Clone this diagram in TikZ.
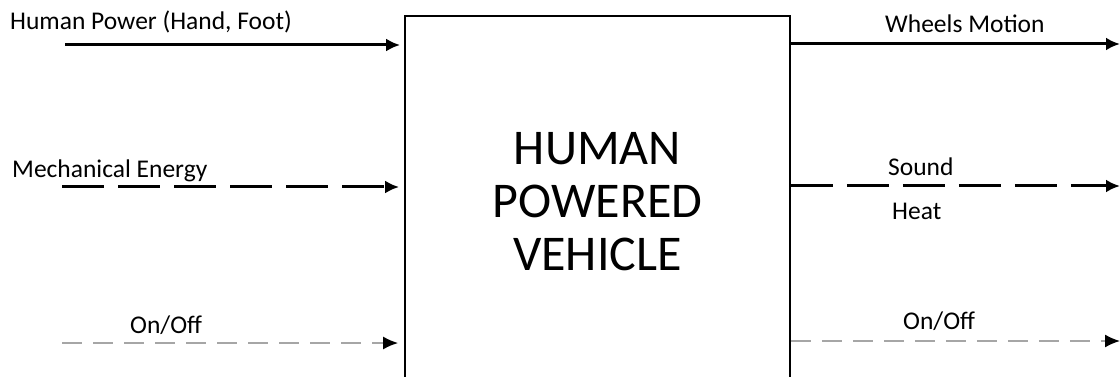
\documentclass[tikz,border=0pt]{standalone}
\usepackage{fontspec}
\setmainfont{Carlito}
\usetikzlibrary{arrows.meta}

\tikzset{
    flow/.style={line width=3pt, -{Latex[length=14pt,width=13pt]}},
    energy/.style={flow, dash pattern=on 42pt off 14pt},
    signal/.style={line width=1.6pt, gray!70, dash pattern=on 20pt off 11pt,
        -{Latex[length=15pt,width=13pt,black]}},
    lbl/.style={font=\fontsize{25.5}{28}\selectfont, inner sep=0pt}
}

\begin{document}
\begin{tikzpicture}[x=1pt, y=-1pt]
    \useasboundingbox (0,0) rectangle (1120,377);
    \clip (0,0) rectangle (1120,377);
    % the system box (its lower edge runs off the page)
    \node (vehicle) [draw, line width=1.8pt, anchor=north, minimum width=385pt,
        minimum height=372pt, align=center,
        font=\fontsize{50}{53}\selectfont] at (597.5,15)
        {HUMAN\\POWERED\\VEHICLE};

    % inputs
    \coordinate (in1) at (65,45);
    \coordinate (in2) at (62,187);
    \coordinate (in3) at (62,343);
    \draw[flow] (in1) -- ([xshift=-4pt]vehicle.west |- in1);
    \draw[energy] (in2) -- ([xshift=-5pt]vehicle.west |- in2);
    \draw[signal] (in3) -- ([xshift=-6pt]vehicle.west |- in3);

    % outputs
    \coordinate (out1) at (1120,44);
    \coordinate (out2) at (1120,186);
    \coordinate (out3) at (1120,341);
    \draw[flow] (vehicle.east |- out1) -- (out1);
    \draw[energy] (vehicle.east |- out2) -- (out2);
    \draw[signal] (vehicle.east |- out3) -- (out3);

    % labels
    \node (humanpower) [lbl, anchor=west] at (10,22) {Human Power (Hand, Foot)};
    \node (mech) [lbl, anchor=west] at (12,171) {Mechanical Energy};
    \node (onoffin) [lbl, anchor=west] at (130,325) {On/Off};
    \node (wheels) [lbl, anchor=west] at (885,24) {Wheels Motion};
    \node (sound) [lbl, anchor=west] at (888,167) {Sound};
    \node (heat) [lbl, anchor=west] at (892,211) {Heat};
    \node (onoffout) [lbl, anchor=west] at (903,321) {On/Off};
\end{tikzpicture}
\end{document}
